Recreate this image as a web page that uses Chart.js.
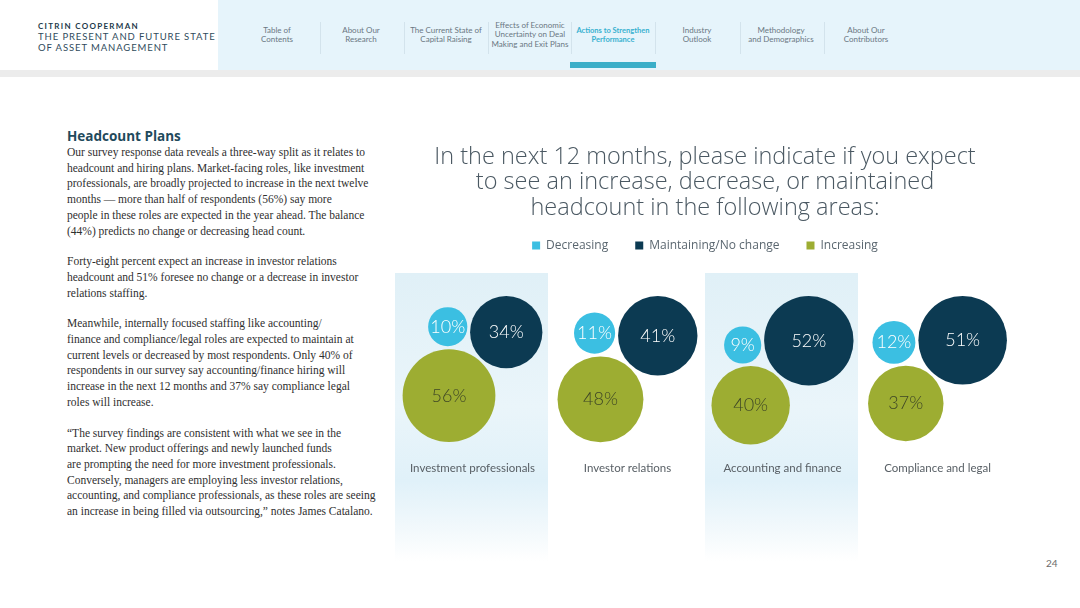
<!DOCTYPE html>
<html>
<head>
<meta charset="utf-8">
<script src="https://cdn.jsdelivr.net/npm/chart.js@4/dist/chart.umd.min.js"></script>
<style>
  html, body { margin: 0; padding: 0; background: #fff; }
  body { width: 1080px; height: 608px; position: relative; overflow: hidden; font-family: Lato, "Open Sans", sans-serif; }
  .nav-bg { position: absolute; left: 218px; top: 0; width: 862px; height: 70px; background: #e6f4fb; }
  .strip { position: absolute; left: 0; top: 70px; width: 1080px; height: 7px; background: #ececec; }
  .brand { position: absolute; left: 38px; top: 21px; color: #2f4b5c; }
  .brand .b1 { font-size: 8px; font-weight: 700; letter-spacing: 1.3px; line-height: 11px; color: #1d3a4b; }
  .brand .b2 { font-size: 9.5px; letter-spacing: 0.9px; line-height: 10.5px; }
  .nav { position: absolute; top: 0; height: 70px; font-size: 8px; line-height: 9.5px; color: #6a7782; text-align: center; display: flex; align-items: center; justify-content: center; transform: translateX(-50%); white-space: nowrap; }
  .nav.active { color: #38b1d0; font-weight: 700; font-size: 7.5px; }
  .sep { position: absolute; top: 22px; width: 1px; height: 32px; background: #d3e3ec; }
  .bar { position: absolute; left: 570px; top: 62px; width: 86px; height: 6px; background: #3aaec8; }
  .left { position: absolute; left: 67px; top: 128px; width: 330px; }
  .left h2 { margin: 0; font-family: "Open Sans", sans-serif; font-weight: 700; font-size: 13.5px; color: #1f4a5c; line-height: 17px; }
  .left p { margin: 0 0 15px 0; font-family: "Liberation Serif", serif; font-size: 11.5px; line-height: 15.7px; color: #2f2f2f; white-space: nowrap; }
  #chart-box { position: absolute; left: 395px; top: 140px; width: 620px; height: 430px; }
  .page { position: absolute; left: 1046px; top: 557px; font-size: 10px; color: #6b6b6b; }
</style>
</head>
<body>
<div class="nav-bg"></div>
<div class="strip"></div>
<div class="brand">
  <div class="b1">CITRIN COOPERMAN</div>
  <div class="b2">THE PRESENT AND FUTURE STATE</div>
  <div class="b2">OF ASSET MANAGEMENT</div>
</div>

<div class="nav" style="left:277px">Table of<br>Contents</div>
<div class="nav" style="left:361px">About Our<br>Research</div>
<div class="nav" style="left:446px">The Current State of<br>Capital Raising</div>
<div class="nav" style="left:530px">Effects of Economic<br>Uncertainty on Deal<br>Making and Exit Plans</div>
<div class="nav active" style="left:613px">Actions to Strengthen<br>Performance</div>
<div class="nav" style="left:697px">Industry<br>Outlook</div>
<div class="nav" style="left:781px">Methodology<br>and Demographics</div>
<div class="nav" style="left:866px">About Our<br>Contributors</div>
<div class="sep" style="left:320px"></div>
<div class="sep" style="left:404px"></div>
<div class="sep" style="left:488px"></div>
<div class="sep" style="left:571px"></div>
<div class="sep" style="left:655px"></div>
<div class="sep" style="left:740px"></div>
<div class="sep" style="left:824px"></div>
<div class="bar"></div>

<div class="left">
  <h2>Headcount Plans</h2>
  <p>Our survey response data reveals a three-way split as it relates to<br>
  headcount and hiring plans. Market-facing roles, like investment<br>
  professionals, are broadly projected to increase in the next twelve<br>
  months — more than half of respondents (56%) say more<br>
  people in these roles are expected in the year ahead. The balance<br>
  (44%) predicts no change or decreasing head count.</p>
  <p>Forty-eight percent expect an increase in investor relations<br>
  headcount and 51% foresee no change or a decrease in investor<br>
  relations staffing.</p>
  <p>Meanwhile, internally focused staffing like accounting/<br>
  finance and compliance/legal roles are expected to maintain at<br>
  current levels or decreased by most respondents. Only 40% of<br>
  respondents in our survey say accounting/finance hiring will<br>
  increase in the next 12 months and 37% say compliance legal<br>
  roles will increase.</p>
  <p>“The survey findings are consistent with what we see in the<br>
  market. New product offerings and newly launched funds<br>
  are prompting the need for more investment professionals.<br>
  Conversely, managers are employing less investor relations,<br>
  accounting, and compliance professionals, as these roles are seeing<br>
  an increase in being filled via outsourcing,” notes James Catalano.</p>
</div>

<div id="chart-box"><canvas id="bubbles" width="620" height="430"></canvas></div>
<div class="page">24</div>

<script>
const categories = ['Investment professionals', 'Investor relations', 'Accounting and finance', 'Compliance and legal'];
const seriesNames = ['Decreasing', 'Maintaining/No change', 'Increasing'];
const decreasing = [10, 11, 9, 12];
const maintaining = [34, 41, 52, 51];
const increasing = [56, 48, 40, 37];

const colors = ['#3bbfe2', '#0c3a52', '#9dad32'];
const labelColors = ['#ffffff', '#ffffff', '#3d4526'];

const RADIUS_K = 6.2;      // px of radius per sqrt(percent)
const GAP = 3;             // px between touching bubbles
const ANGLE = 48 * Math.PI / 180;
const MAINT_TOP = 156;     // canvas px of the top of the dark bubbles
const LABEL_Y = 328;       // canvas px of the category labels
const SHADE_TOP = 133;     // canvas px where the column shading starts

// place the three bubbles of one group so they sit against each other
function packGroup(d, m, inc)
{
    const rD = RADIUS_K * Math.sqrt(d);
    const rM = RADIUS_K * Math.sqrt(m);
    const rI = RADIUS_K * Math.sqrt(inc);

    const M = { x: 0, y: 0, r: rM };
    const dIM = rI + rM + GAP;
    const I = { x: -dIM * Math.cos(ANGLE), y: dIM * Math.sin(ANGLE), r: rI };

    const a = rD + rI + GAP, b = rD + rM + GAP;
    const dx = M.x - I.x, dy = M.y - I.y, dist = Math.hypot(dx, dy);
    const t = (a * a - b * b + dist * dist) / (2 * dist);
    const h = Math.sqrt(Math.max(a * a - t * t, 0));
    const px = I.x + dx * t / dist, py = I.y + dy * t / dist;
    const c1 = { x: px + dy * h / dist, y: py - dx * h / dist };
    const c2 = { x: px - dy * h / dist, y: py + dx * h / dist };
    const D = c1.x < c2.x ? c1 : c2;
    D.r = rD;

    const minX = Math.min(D.x - rD, I.x - rI, M.x - rM);
    const maxX = Math.max(D.x + rD, I.x + rI, M.x + rM);
    const shift = -(minX + maxX) / 2;
    const top = M.y - rM;
    return [D, M, I].map(c => ({ x: c.x + shift, y: c.y - top, r: c.r }));
}

const shadePlugin = {
    id: 'shade',
    beforeDatasetsDraw(chart) {
        const { ctx, chartArea } = chart;
        const xs = chart.scales.x, ys = chart.scales.y;
        const top = ys.getPixelForValue(SHADE_TOP);
        const grad = ctx.createLinearGradient(0, top, 0, chartArea.bottom);
        grad.addColorStop(0, '#e0f0f7');
        grad.addColorStop(0.45, '#eaf5fa');
        grad.addColorStop(0.7, '#e0f1f9');
        grad.addColorStop(0.87, '#f3f9fc');
        grad.addColorStop(0.97, '#ffffff');
        ctx.save();
        ctx.fillStyle = grad;
        [0, 2].forEach(i => {
            const x0 = xs.getPixelForValue(i - 0.5);
            const x1 = xs.getPixelForValue(i + 0.5);
            ctx.fillRect(x0, top, x1 - x0 - 2, chartArea.bottom - top);
        });
        ctx.restore();
    }
};

const valueLabelPlugin = {
    id: 'valueLabels',
    afterDatasetsDraw(chart) {
        const { ctx } = chart;
        const xs = chart.scales.x, ys = chart.scales.y;
        ctx.save();
        ctx.textAlign = 'center';
        ctx.textBaseline = 'middle';
        chart.data.datasets.forEach((ds, k) => {
            const meta = chart.getDatasetMeta(k);
            meta.data.forEach((el, i) => {
                ctx.font = '300 18px Lato, sans-serif';
                ctx.fillStyle = labelColors[k];
                ctx.fillText(ds.values[i] + '%', el.x, el.y);
            });
        });
        ctx.font = '11.5px Lato, sans-serif';
        ctx.fillStyle = '#596066';
        categories.forEach((name, i) => {
            ctx.fillText(name, xs.getPixelForValue(i), ys.getPixelForValue(LABEL_Y));
        });
        ctx.restore();
    }
};

const seriesValues = [decreasing, maintaining, increasing];

const chart = new Chart(document.getElementById('bubbles'), {
    type: 'bubble',
    data: {
        datasets: seriesNames.map((name, k) => ({
            label: name,
            values: seriesValues[k],
            data: [],
            backgroundColor: colors[k],
            borderWidth: 0,
            hoverRadius: 0
        }))
    },
    options: {
        responsive: false,
        animation: false,
        layout: { padding: 0, autoPadding: false },
        scales: {
            x: { type: 'linear', min: -0.5, max: categories.length - 0.5, display: false },
            y: { type: 'linear', min: 0, max: 300, reverse: true, display: false }
        },
        plugins: {
            title: {
                display: true,
                text: ['In the next 12 months, please indicate if you expect',
                       'to see an increase, decrease, or maintained',
                       'headcount in the following areas:'],
                color: '#4a5862',
                font: { family: '"Open Sans", sans-serif', size: 23.5, weight: 300, lineHeight: 1.07 },
                padding: { top: 5, bottom: -8 }
            },
            legend: {
                display: true,
                labels: {
                    boxWidth: 8,
                    boxHeight: 8,
                    padding: 27,
                    color: '#5b6770',
                    font: { family: '"Open Sans", sans-serif', size: 12 }
                }
            },
            tooltip: { enabled: false }
        }
    },
    plugins: [shadePlugin, valueLabelPlugin]
});

function placeBubbles()
{
    const area = chart.chartArea;
    const unit = area.width / categories.length;
    const groups = categories.map((c, i) => packGroup(decreasing[i], maintaining[i], increasing[i]));

    chart.options.scales.y.min = area.top;
    chart.options.scales.y.max = area.bottom;
    chart.data.datasets.forEach((ds, k) => {
        ds.data = groups.map((g, i) => ({
            x: i + g[k].x / unit,
            y: MAINT_TOP + g[k].y,
            r: g[k].r
        }));
    });
    chart.update('none');
}

placeBubbles();
</script>
</body>
</html>
